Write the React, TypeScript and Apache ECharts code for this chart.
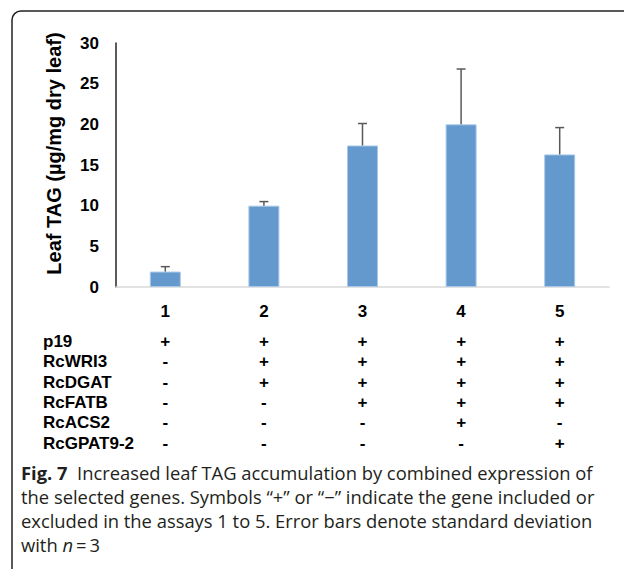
import React, { useEffect, useRef } from "react";
import * as echarts from "echarts";

const assays = ["1", "2", "3", "4", "5"];
const tagValues = [1.9, 10.0, 17.4, 20.0, 16.3];
const tagSD = [0.6, 0.5, 2.7, 6.8, 3.3];
const yMin = 0;
const yMax = 30;
const yStep = 5;

const genes = ["p19", "RcWRI3", "RcDGAT", "RcFATB", "RcACS2", "RcGPAT9-2"];
const p19Row = ["+", "+", "+", "+", "+"];
const rcWRI3Row = ["-", "+", "+", "+", "+"];
const rcDGATRow = ["-", "+", "+", "+", "+"];
const rcFATBRow = ["-", "-", "+", "+", "+"];
const rcACS2Row = ["-", "-", "-", "+", "-"];
const rcGPAT92Row = ["-", "-", "-", "-", "+"];
const geneRows = [p19Row, rcWRI3Row, rcDGATRow, rcFATBRow, rcACS2Row, rcGPAT92Row];

const yTitle = "Leaf TAG (\u00b5g/mg dry leaf)";
const captionBold = "Fig. 7";
const captionLine1 = "  Increased leaf TAG accumulation by combined expression of";
const captionLine2 = "the selected genes. Symbols \u201c+\u201d or \u201c\u2212\u201d indicate the gene included or";
const captionLine3 = "excluded in the assays 1 to 5. Error bars denote standard deviation";
const captionLine4 = "with {i|n}\u2009=\u20093";

const W = 624;
const H = 569;
const GRID_LEFT = 116;
const GRID_TOP = 43;
const GRID_RIGHT = 15;
const AXIS_Y = 287;
const ROW_CENTERS = [341, 361.5, 382, 402, 422.5, 443];
const CAPTION_Y = [472, 496, 520, 544];
const FONT = '"Liberation Sans", Arial, sans-serif';
const CAP_FONT = '"Open Sans", "Noto Sans", sans-serif';

function fitCaptionSize(): number {
  const c = document.createElement("canvas").getContext("2d");
  if (!c) return 17;
  c.font = 'bold 100px "Open Sans"';
  const w1 = c.measureText(captionBold).width;
  c.font = '100px "Open Sans"';
  const w2 = c.measureText(captionLine1).width;
  const target = 572;
  const s = (100 * target) / (w1 + w2);
  return Math.max(14, Math.min(20, s));
}

export default function App() {
  const ref = useRef<HTMLDivElement>(null);
  useEffect(() => {
    if (!ref.current) return;
    const chart = echarts.init(ref.current, undefined, { renderer: "svg" });
    const capSize = fitCaptionSize();
    const labelStyle = {
      fontFamily: FONT,
      fontWeight: "bold" as const,
      fontSize: 17,
      color: "#000",
    };
    const extraAxes = genes.map((g, r) => ({
      type: "category",
      data: assays,
      position: "bottom",
      offset: ROW_CENTERS[r] - AXIS_Y,
      gridIndex: 0,
      axisLine: { show: false },
      axisTick: { show: false },
      axisLabel: {
        ...labelStyle,
        interval: 0,
        margin: 0,
        verticalAlign: "middle",
        formatter: (_v: string, idx: number) => geneRows[r][idx],
      },
      name: g,
      nameLocation: "start",
      nameGap: 73,
      nameMoveOverlap: false,
      nameTextStyle: { ...labelStyle, align: "left", verticalAlign: "middle" },
    }));
    const capText = (y: number, text: string, rich?: any) => ({
      type: "text",
      x: 21,
      y,
      style: {
        text,
        fontFamily: CAP_FONT,
        fontSize: capSize,
        fill: "#231f20",
        align: "left",
        verticalAlign: "middle",
        rich,
      },
    });
    chart.setOption({
      animation: false,
      backgroundColor: "#fff",
      grid: {
        left: GRID_LEFT,
        right: GRID_RIGHT,
        top: GRID_TOP,
        bottom: H - AXIS_Y,
        containLabel: false,
        outerBoundsMode: "none",
      },
      xAxis: [
        {
          type: "category",
          data: assays,
          position: "bottom",
          axisLine: { show: true, lineStyle: { color: "#d9d9d9", width: 1.5 } },
          axisTick: { show: false },
          axisLabel: { ...labelStyle, interval: 0, margin: 24, verticalAlign: "middle" },
        },
        ...extraAxes,
      ],
      yAxis: {
        type: "value",
        min: yMin,
        max: yMax,
        interval: yStep,
        axisLine: { show: true, lineStyle: { color: "#262626", width: 1.5 } },
        axisTick: { show: false },
        splitLine: { show: false },
        axisLabel: { ...labelStyle, margin: 17 },
      },
      series: [
        {
          type: "bar",
          data: tagValues,
          barWidth: 31,
          itemStyle: { color: "#6399cc", borderColor: "#a9c8e8", borderWidth: 1 },
        },
        {
          type: "custom",
          data: tagValues.map((v, i) => [i, v, v + tagSD[i]]),
          encode: { x: 0, y: [1, 2] },
          z: 5,
          renderItem: (_p: any, api: any) => {
            const base = api.coord([api.value(0), api.value(1)]);
            const top = api.coord([api.value(0), api.value(2)]);
            const st = { stroke: "#595959", lineWidth: 1.5 };
            return {
              type: "group",
              children: [
                { type: "line", shape: { x1: base[0], y1: base[1], x2: top[0], y2: top[1] }, style: st },
                { type: "line", shape: { x1: top[0] - 4.5, y1: top[1], x2: top[0] + 4.5, y2: top[1] }, style: st },
              ],
            };
          },
        },
      ],
      graphic: [
        {
          type: "rect",
          shape: { x: 12, y: 11, width: 700, height: 700, r: 9 },
          style: { fill: "none", stroke: "#222", lineWidth: 1.5 },
          silent: true,
        },
        {
          type: "text",
          x: 54,
          y: 153.5,
          rotation: Math.PI / 2,
          style: {
            text: yTitle,
            fontFamily: FONT,
            fontWeight: "bold",
            fontSize: 20,
            fill: "#000",
            align: "center",
            verticalAlign: "middle",
          },
        },
        capText(CAPTION_Y[0], "{b|" + captionBold + "}" + captionLine1, {
          b: { fontFamily: CAP_FONT, fontWeight: "bold", fontSize: capSize, fill: "#231f20" },
        }),
        capText(CAPTION_Y[1], captionLine2),
        capText(CAPTION_Y[2], captionLine3),
        capText(CAPTION_Y[3], captionLine4, {
          i: { fontFamily: CAP_FONT, fontStyle: "italic", fontSize: capSize, fill: "#231f20" },
        }),
      ],
    });
    return () => chart.dispose();
  }, []);
  return (
    <div
      ref={ref}
      style={{ position: "fixed", left: 0, top: 0, width: W, height: H, background: "#fff" }}
    />
  );
}
